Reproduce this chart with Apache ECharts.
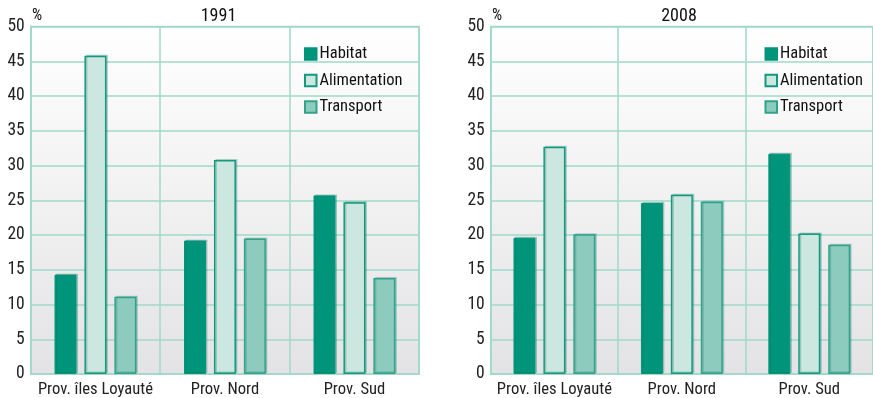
<!DOCTYPE html>
<html>
<head>
<meta charset="utf-8">
<script src="https://cdn.jsdelivr.net/npm/echarts@6/dist/echarts.min.js"></script>
<style>html,body{margin:0;padding:0;background:#fff}#c{width:873px;height:398px}</style>
</head>
<body>
<div id="c"></div>
<script>
const categories = ['Prov. îles Loyauté', 'Prov. Nord', 'Prov. Sud'];
const seriesNames = ['Habitat', 'Alimentation', 'Transport'];
const habitat1991 = [14.3, 19.2, 25.7];
const alimentation1991 = [45.8, 30.8, 24.7];
const transport1991 = [11.1, 19.5, 13.8];
const habitat2008 = [19.6, 24.6, 31.7];
const alimentation2008 = [32.7, 25.8, 20.2];
const transport2008 = [20.1, 24.8, 18.6];
const yTicks = [0, 5, 10, 15, 20, 25, 30, 35, 40, 45, 50];
const panelTitles = ['1991', '2008'];

const FONT = '"Roboto Condensed", "DejaVu Sans Condensed", sans-serif';
const GRID_COLOR = '#a2d8ca';
const styles = [
  {color: '#00957b', borderColor: '#00957b', borderWidth: 1},
  {color: '#cce7df', borderColor: '#13997f', borderWidth: 1.5},
  {color: '#8ecbbf', borderColor: '#30a48b', borderWidth: 1.5}
];
const bg = {type: 'linear', x: 0, y: 0, x2: 0, y2: 1,
  colorStops: [{offset: 0, color: '#ffffff'}, {offset: 1, color: '#e3e3e5'}]};

const grids = [
  {left: 30.7, top: 26.5, width: 388.5, height: 348.5},
  {left: 490.7, top: 26.5, width: 388.5, height: 348.5}
].map(g => Object.assign(g, {show: true, backgroundColor: bg, borderColor: GRID_COLOR, borderWidth: 1.5}));

function xAxis(i) {
  return {
    type: 'category', gridIndex: i, data: categories,
    axisLine: {show: true, lineStyle: {color: GRID_COLOR, width: 1.5}},
    axisTick: {show: false},
    splitLine: {show: true, interval: 0, lineStyle: {color: GRID_COLOR, width: 1.5}},
    axisLabel: {fontFamily: FONT, fontSize: 16.6, color: '#222', margin: 7, interval: 0}
  };
}
function yAxis(i) {
  return {
    type: 'value', gridIndex: i, min: yTicks[0], max: yTicks[yTicks.length - 1], interval: yTicks[1] - yTicks[0],
    axisLine: {show: true, lineStyle: {color: GRID_COLOR, width: 1.5}},
    axisTick: {show: false},
    splitLine: {show: true, lineStyle: {color: GRID_COLOR, width: 1.5}},
    axisLabel: {fontFamily: FONT, fontSize: 17.5, color: '#222', margin: 6}
  };
}
const data = [[habitat1991, alimentation1991, transport1991], [habitat2008, alimentation2008, transport2008]];
const series = [];
data.forEach((set, gi) => {
  set.forEach((vals, si) => {
    series.push({
      type: 'bar', name: seriesNames[si], xAxisIndex: gi, yAxisIndex: gi,
      data: vals, barWidth: 22, barGap: '36%',
      itemStyle: Object.assign({}, styles[si], {shadowColor: 'rgba(0,110,90,0.25)', shadowOffsetX: 1.5, shadowOffsetY: -1, shadowBlur: 0}),
      emphasis: {disabled: true}
    });
  });
});
function legend(x) {
  return {
    left: x, top: 40.5, orient: 'vertical', itemWidth: 11.5, itemHeight: 11.5, itemGap: 9.5,
    icon: 'rect', data: seriesNames,
    textStyle: {fontFamily: FONT, fontSize: 16.5, color: '#111', padding: [0, 0, 0, -2]},
    selectedMode: false
  };
}
const graphic = [];
[[218.5, 32], [679, 492]].forEach((p, i) => {
  graphic.push({type: 'text', x: p[0], y: 16.5, style: {text: panelTitles[i], fontFamily: FONT, fontSize: 18, fill: '#111', textAlign: 'center', textVerticalAlign: 'middle'}});
  graphic.push({type: 'text', x: p[1], y: 15.5, style: {text: '%', fontFamily: FONT, fontSize: 16, fill: '#111', textAlign: 'left', textVerticalAlign: 'middle'}});
});

const chart = echarts.init(document.getElementById('c'), null, {renderer: 'canvas'});
chart.setOption({
  animation: false,
  grid: grids,
  xAxis: [xAxis(0), xAxis(1)],
  yAxis: [yAxis(0), yAxis(1)],
  legend: [legend(299), legend(759.5)],
  series: series,
  graphic: graphic
});
</script>
</body>
</html>
